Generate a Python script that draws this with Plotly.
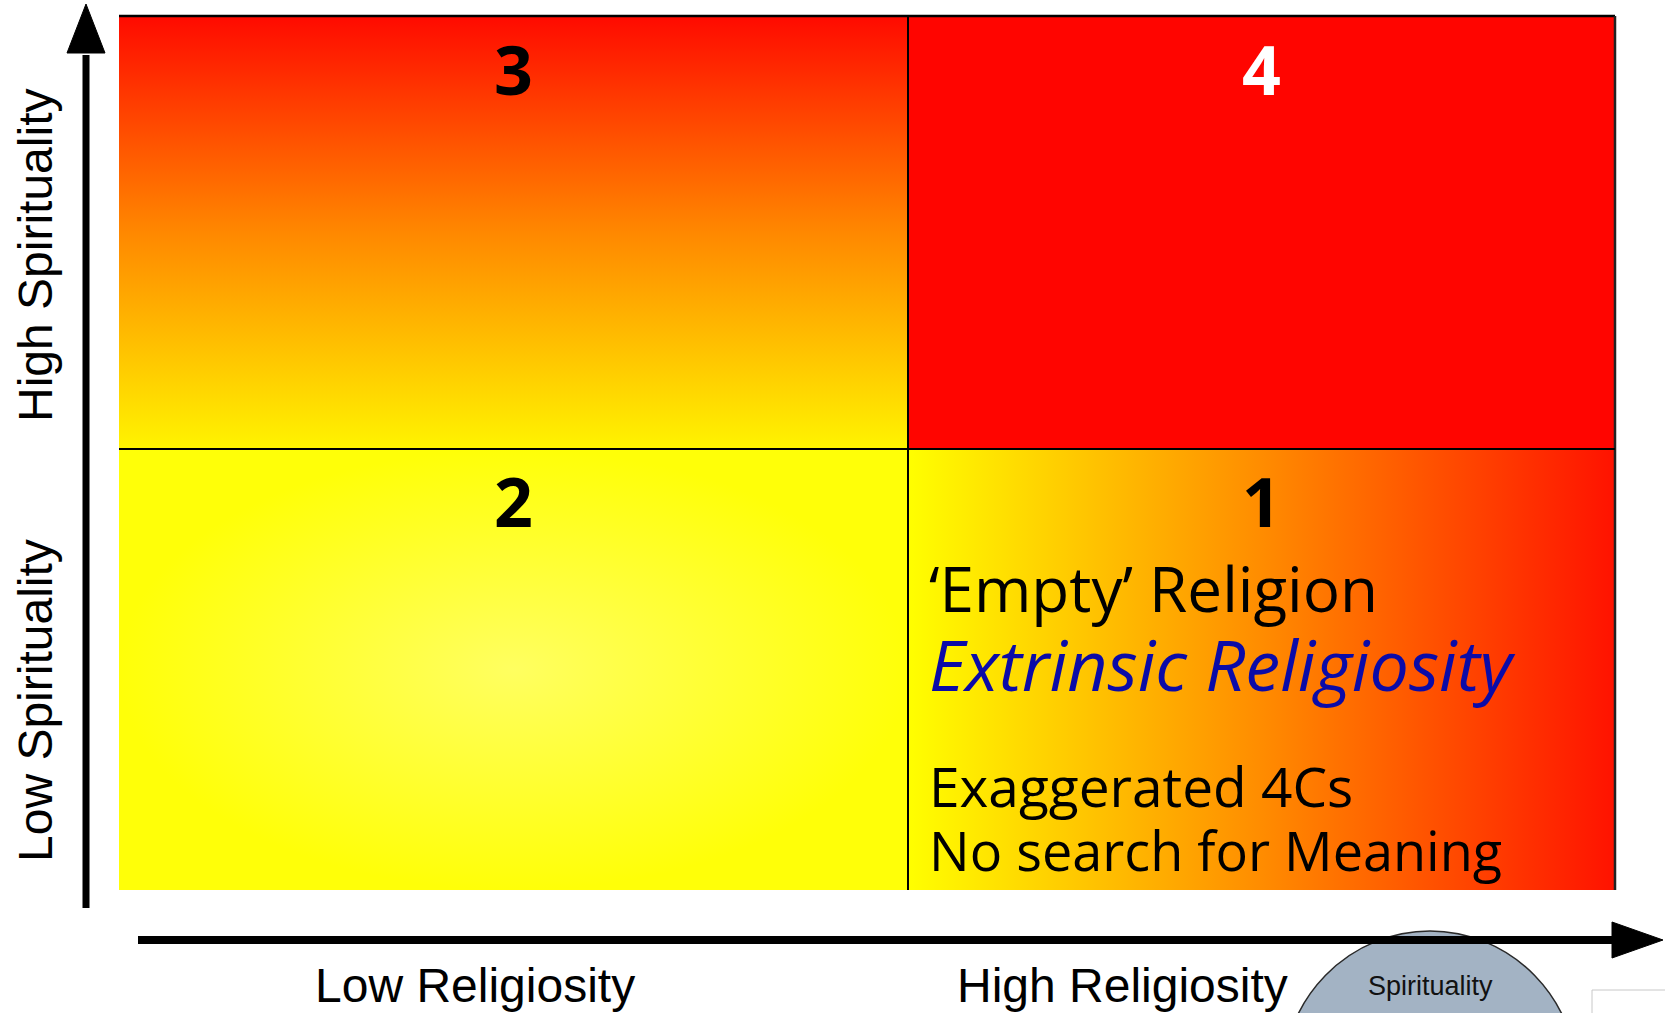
import plotly.graph_objects as go

# ---------------- data ----------------
quadrant_ids = ["3", "4", "2", "1"]
quadrant_cols = [0, 1, 0, 1]          # 0 = low religiosity, 1 = high religiosity
quadrant_rows = [0, 0, 1, 1]          # 0 = high spirituality (top), 1 = low spirituality
quadrant_number_colors = ["#000000", "#ffffff", "#000000", "#000000"]
x_axis_labels = ["Low Religiosity", "High Religiosity"]
y_axis_labels = ["High Spirituality", "Low Spirituality"]
q1_lines = ["\u2018Empty\u2019 Religion", "Extrinsic Religiosity",
            "Exaggerated 4Cs", "No search for Meaning"]
bubble_label = "Spirituality"

# ---------------- layout geometry (pixels) ----------------
W, H = 1665, 1013
col_edges = [119, 908, 1615]
row_edges = [16, 449, 890]

fills = {
    "3": dict(type="vertical", colorscale=[[0, "#ff0a00"], [0.5, "#ff8800"], [1, "#fff400"]]),
    "4": "#ff0500",
    "2": dict(type="radial", colorscale=[[0, "#ffff60"], [1, "#ffff08"]]),
    "1": dict(type="horizontal", colorscale=[[0, "#ffff00"], [0.5, "#ff8c00"], [1, "#ff1200"]]),
}

fig = go.Figure()

for qid, c, r in zip(quadrant_ids, quadrant_cols, quadrant_rows):
    x0, x1 = col_edges[c], col_edges[c + 1]
    y0, y1 = row_edges[r], row_edges[r + 1]
    f = fills[qid]
    kw = dict(x=[x0, x1, x1, x0, x0], y=[y0, y0, y1, y1, y0], fill="toself",
              mode="lines", line=dict(width=0), hoverinfo="skip", showlegend=False)
    if isinstance(f, str):
        kw["fillcolor"] = f
    else:
        g = dict(f)
        if g["type"] == "vertical":
            g["start"], g["stop"] = y0, y1
        elif g["type"] == "horizontal":
            g["start"], g["stop"] = x0, x1
        kw["fillgradient"] = g
    fig.add_trace(go.Scatter(**kw))

shapes = []
# grid lines
shapes.append(dict(type="line", x0=col_edges[0], x1=col_edges[2], y0=row_edges[0], y1=row_edges[0],
                   line=dict(color="#000", width=2.5)))
shapes.append(dict(type="line", x0=col_edges[2], x1=col_edges[2], y0=row_edges[0], y1=row_edges[2],
                   line=dict(color="#222", width=2.5)))
shapes.append(dict(type="line", x0=col_edges[1], x1=col_edges[1], y0=row_edges[0], y1=row_edges[2],
                   line=dict(color="#000", width=2)))
shapes.append(dict(type="line", x0=col_edges[0], x1=col_edges[2], y0=row_edges[1], y1=row_edges[1],
                   line=dict(color="#000", width=2)))

# bubble (under arrow)
bx, by, brx, bry = 1430, 1083, 148, 152
shapes.append(dict(type="circle", x0=bx - brx, x1=bx + brx, y0=by - bry, y1=by + bry,
                   fillcolor="#a3b3c4", line=dict(color="#2a2a2a", width=1.5)))
# small box bottom right
shapes.append(dict(type="rect", x0=1592, x1=1680, y0=990, y1=1030,
                   fillcolor="#ffffff", line=dict(color="#c8c8c8", width=1)))

# vertical arrow
vx, vtop, vbase, vbottom, vhw = 86, 4, 53, 908, 19
shapes.append(dict(type="line", x0=vx, x1=vx, y0=vbottom, y1=vbase + 2, line=dict(color="#000", width=7)))
shapes.append(dict(type="path", path=f"M {vx - vhw},{vbase} L {vx + vhw},{vbase} L {vx},{vtop} Z",
                   fillcolor="#000", line=dict(color="#000", width=1)))
# horizontal arrow
hy, hleft, hbase, htip, hhw = 940, 138, 1612, 1663, 18
shapes.append(dict(type="line", x0=hleft, x1=hbase + 2, y0=hy, y1=hy, line=dict(color="#000", width=8)))
shapes.append(dict(type="path", path=f"M {hbase},{hy - hhw} L {hbase},{hy + hhw} L {htip},{hy} Z",
                   fillcolor="#000", line=dict(color="#000", width=1)))

ann = []
comic = "Comic Sans MS, Open Sans, sans-serif"
arial = "Liberation Sans, Arial, sans-serif"

# quadrant numbers
num_y = [68, 500]
for qid, c, r, col in zip(quadrant_ids, quadrant_cols, quadrant_rows, quadrant_number_colors):
    cx = [513, 1261][c]
    ann.append(dict(x=cx, y=num_y[r], text=f"<b>{qid}</b>", showarrow=False,
                    font=dict(family=comic, size=68, color=col), xanchor="center", yanchor="middle"))

# quadrant 1 text
q1_y = [588, 664, 785, 850]
q1_size = [62, 70, 55, 54]
q1_color = ["#000000", "#0b0ba8", "#000000", "#000000"]
for t, yy, sz, cl in zip(q1_lines, q1_y, q1_size, q1_color):
    txt = f"<i>{t}</i>" if cl != "#000000" else t
    ann.append(dict(x=927, y=yy, text=txt, showarrow=False, xanchor="left", yanchor="middle",
                    font=dict(family=comic, size=sz, color=cl)))

# axis labels
for t, xx in zip(x_axis_labels, [475, 1122]):
    ann.append(dict(x=xx, y=985, text=t, showarrow=False, xanchor="center", yanchor="middle",
                    font=dict(family=arial, size=48, color="#000")))
for t, yy in zip(y_axis_labels, [256, 701]):
    ann.append(dict(x=35, y=yy, text=t, showarrow=False, xanchor="center", yanchor="middle",
                    textangle=-90, font=dict(family=arial, size=48, color="#000")))

ann.append(dict(x=bx, y=986, text=bubble_label, showarrow=False, xanchor="center", yanchor="middle",
                font=dict(family=arial, size=27, color="#111111")))

fig.update_layout(
    width=W, height=H, margin=dict(l=0, r=0, t=0, b=0),
    paper_bgcolor="#ffffff", plot_bgcolor="#ffffff",
    xaxis=dict(range=[0, W], visible=False, fixedrange=True),
    yaxis=dict(range=[H, 0], visible=False, fixedrange=True),
    shapes=shapes, annotations=ann, showlegend=False,
)

fig.write_html("out.html", config={"displayModeBar": False},
               post_script="document.body.style.margin='0';document.body.style.overflow='hidden';")
